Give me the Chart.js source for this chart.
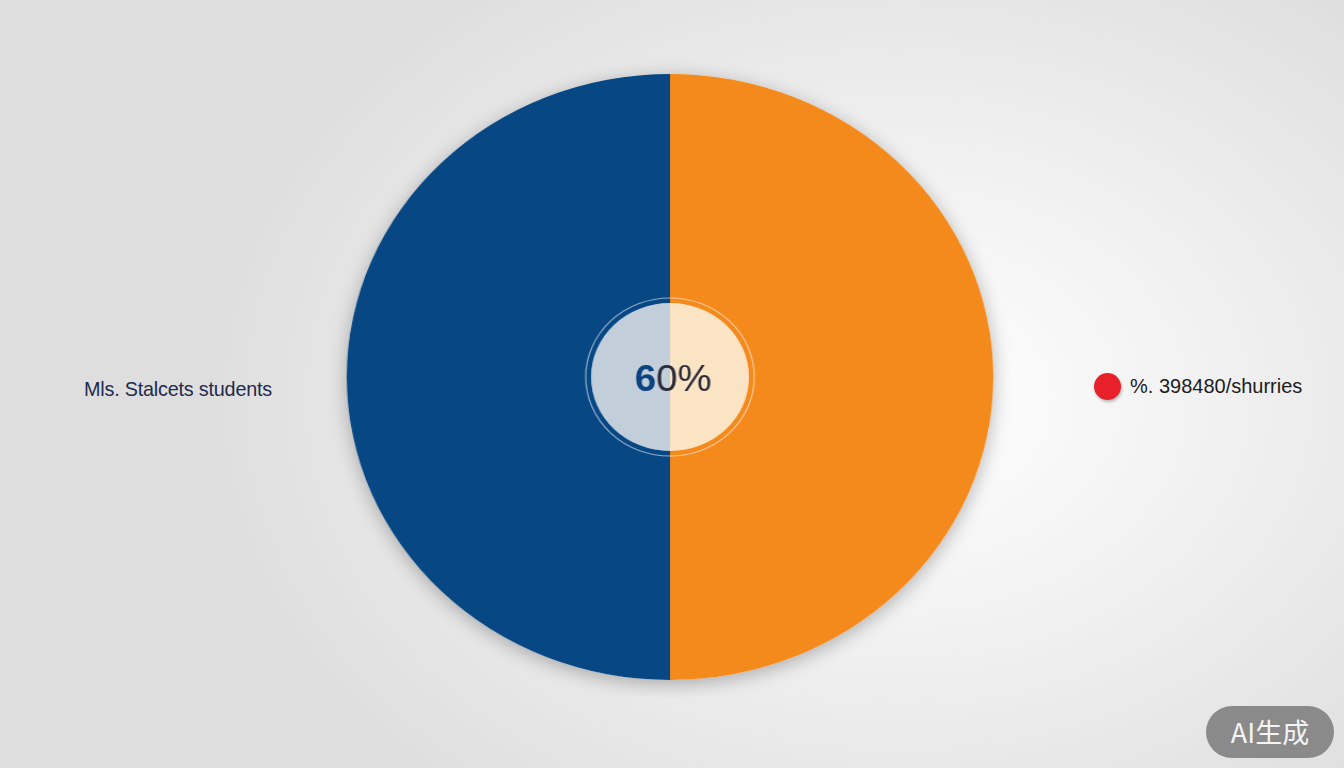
<!DOCTYPE html>
<html>
<head>
<meta charset="utf-8">
<script src="https://cdn.jsdelivr.net/npm/chart.js@4.4.1/dist/chart.umd.min.js"></script>
<style>
  html, body { margin: 0; padding: 0; }
  body {
    width: 1344px; height: 768px; overflow: hidden; position: relative;
    background: radial-gradient(ellipse 700px 520px at 900px 400px, #ffffff 0%, #f1f1f1 45%, #dedede 100%);
    font-family: "Liberation Sans", Arial, sans-serif;
  }
  #wrap {
    position: absolute; left: 350px; top: 57px; width: 640px; height: 640px;
    transform: scaleX(1.067); transform-origin: 320px 320px;
  }
  .lbl { position: absolute; white-space: nowrap; }
  #left { left: 84px; top: 378px; font-size: 19.8px; letter-spacing: -0.2px; color: #1f2b4d; }
  #right { left: 1094px; top: 373px; font-size: 20px; color: #1c1c1c; display: flex; align-items: center; }
  #right .dot { width: 27px; height: 27px; border-radius: 50%; background: #e8202a; margin-right: 9px;
    box-shadow: 1px 2px 3px rgba(0,0,0,0.25); }
  #badge { position: absolute; left: 1206px; top: 706px; width: 128px; height: 52px; border-radius: 26px;
    background: #8a8a8a; color: #f4f4f4; font-size: 27px; line-height: 52px; text-align: center;
    font-family: "Noto Sans CJK SC", "Noto Sans", sans-serif; }
</style>
</head>
<body>
<div id="wrap"><canvas id="pie" width="640" height="640"></canvas></div>
<div class="lbl" id="left"></div>
<div class="lbl" id="right"><span class="dot"></span><span id="rightText"></span></div>
<div id="badge">AI生成</div>
<script>
const labels = ["Mls. Stalcets students", "%. 398480/shurries"];
const values = [50, 50];
const colors = ["#074784", "#f4891c"];
const innerColors = ["#c2ced9", "#fbe4c4"];
const centerText = "60%";

document.getElementById("left").textContent = labels[0];
document.getElementById("rightText").textContent = labels[1];

const decor = {
  id: "decor",
  beforeDatasetsDraw(chart) {
    const arc = chart.getDatasetMeta(0).data[0];
    const ctx = chart.ctx;
    ctx.save();
    ctx.shadowColor = "rgba(0,0,0,0.28)";
    ctx.shadowBlur = 18;
    ctx.shadowOffsetY = 4;
    ctx.fillStyle = "#ffffff";
    ctx.beginPath();
    ctx.arc(arc.x, arc.y, arc.outerRadius, 0, Math.PI * 2);
    ctx.fill();
    ctx.restore();
  },
  afterDatasetsDraw(chart) {
    const inner = chart.getDatasetMeta(1).data[0];
    const ctx = chart.ctx;
    ctx.save();
    ctx.strokeStyle = "rgba(255,255,255,0.55)";
    ctx.lineWidth = 1.2;
    ctx.beginPath();
    ctx.arc(inner.x, inner.y, inner.outerRadius + 5, 0, Math.PI * 2);
    ctx.stroke();
    ctx.font = "36px 'Liberation Sans', Arial, sans-serif";
    ctx.textBaseline = "middle";
    const w = ctx.measureText(centerText).width;
    let x = inner.x + 3 - w / 2;
    ctx.textAlign = "left";
    ctx.fillStyle = "#0b4383";
    ctx.font = "bold 36px 'Liberation Sans', Arial, sans-serif";
    ctx.fillText(centerText[0], x, inner.y + 4);
    x += ctx.measureText(centerText[0]).width;
    ctx.font = "36px 'Liberation Sans', Arial, sans-serif";
    ctx.fillStyle = "#2a2a3a";
    ctx.fillText(centerText.slice(1), x, inner.y + 4);
    ctx.restore();
  }
};

new Chart(document.getElementById("pie"), {
  type: "pie",
  data: {
    labels: labels,
    datasets: [
      { data: values, backgroundColor: colors, borderWidth: 0, weight: 229 },
      { data: values, backgroundColor: innerColors, borderWidth: 0, weight: 74 }
    ]
  },
  options: {
    responsive: false,
    animation: false,
    rotation: 180,
    layout: { padding: 17 },
    plugins: { legend: { display: false }, tooltip: { enabled: false } }
  },
  plugins: [decor]
});
</script>
</body>
</html>
